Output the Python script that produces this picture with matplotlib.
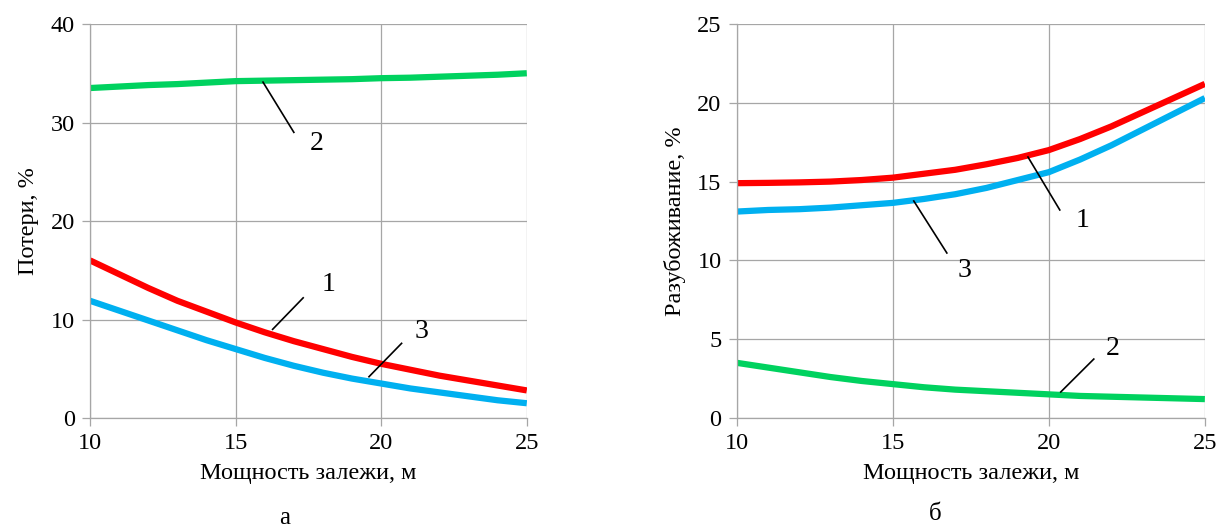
import matplotlib
matplotlib.use("Agg")
import matplotlib.pyplot as plt
import numpy as np

plt.rcParams['font.family'] = ['Liberation Serif', 'DejaVu Serif']

# мощность залежи, м
x = [10, 11, 12, 13, 14, 15, 16, 17, 18, 19, 20, 21, 22, 23, 24, 25]

# (а) потери, %
poteri_1 = [16.0, 14.6, 13.2, 11.9, 10.8, 9.7, 8.7, 7.8, 7.0, 6.2, 5.5, 4.9, 4.3, 3.8, 3.3, 2.8]
poteri_2 = [33.5, 33.65, 33.8, 33.9, 34.05, 34.2, 34.25, 34.3, 34.35, 34.4, 34.5, 34.55, 34.65, 34.75, 34.85, 35.0]
poteri_3 = [11.9, 10.9, 9.9, 8.9, 7.9, 7.0, 6.1, 5.3, 4.6, 4.0, 3.5, 3.0, 2.6, 2.2, 1.8, 1.5]

# (б) разубоживание, %
razub_1 = [14.9, 14.92, 14.95, 15.0, 15.1, 15.25, 15.5, 15.75, 16.1, 16.5, 17.0, 17.7, 18.5, 19.4, 20.3, 21.2]
razub_2 = [3.5, 3.2, 2.9, 2.6, 2.35, 2.15, 1.95, 1.8, 1.7, 1.6, 1.5, 1.4, 1.35, 1.3, 1.25, 1.2]
razub_3 = [13.1, 13.2, 13.25, 13.35, 13.5, 13.65, 13.9, 14.2, 14.6, 15.1, 15.6, 16.4, 17.3, 18.3, 19.3, 20.3]

red = '#ff0000'
green = '#00d25f'
blue = '#00b0f0'
grid_c = '#a6a6a6'

fig = plt.figure(figsize=(12.2, 5.31), dpi=100)
ax1 = fig.add_axes([0.0738, 0.2128, 0.358, 0.742])
ax2 = fig.add_axes([0.604, 0.2128, 0.3836, 0.742])


def style(ax, ymax, ystep):
    ax.set_xlim(10, 25)
    ax.set_ylim(0, ymax)
    ax.set_xticks([10, 15, 20, 25])
    ax.set_yticks(np.arange(0, ymax + 1, ystep))
    ax.grid(True, color=grid_c, linewidth=0.9)
    ax.set_axisbelow(True)
    for s in ['top', 'right']:
        ax.spines[s].set_visible(False)
    for s in ['left', 'bottom']:
        ax.spines[s].set_color(grid_c)
        ax.spines[s].set_linewidth(0.9)
    ax.tick_params(direction='out', length=6, width=0.9, color=grid_c,
                   labelsize=17.5, pad=5)
    ax.set_xlabel('Мощность залежи, м', fontsize=17.5, labelpad=6)


def leader(ax, x0, y0, x1, y1, tx, ty, label):
    # выноска с номером кривой
    ax.plot([x0, x1], [y0, y1], color='black', lw=1.2)
    ax.text(tx, ty, label, fontsize=20, ha='center', va='center')


lw = 4.5
ax1.plot(x, poteri_2, color=green, lw=lw, solid_capstyle='butt')
ax1.plot(x, poteri_1, color=red, lw=lw, solid_capstyle='butt')
ax1.plot(x, poteri_3, color=blue, lw=lw, solid_capstyle='butt')
style(ax1, 40, 10)
ax1.set_ylabel('Потери, %', fontsize=17.5, labelpad=8)

leader(ax1, 15.94, 34.1, 17.0, 29.0, 17.79, 27.9, '2')
leader(ax1, 16.27, 9.0, 17.32, 12.2, 18.2, 13.6, '1')
leader(ax1, 19.58, 4.19, 20.70, 7.58, 21.39, 8.76, '3')

ax2.plot(x, razub_2, color=green, lw=lw, solid_capstyle='butt')
ax2.plot(x, razub_3, color=blue, lw=lw, solid_capstyle='butt')
ax2.plot(x, razub_1, color=red, lw=lw, solid_capstyle='butt')
style(ax2, 25, 5)
ax2.set_ylabel('Разубоживание, %', fontsize=17.5, labelpad=8)

leader(ax2, 19.33, 16.56, 20.35, 13.2, 21.09, 12.56, '1')
leader(ax2, 15.67, 13.77, 16.73, 10.47, 17.31, 9.39, '3')
leader(ax2, 20.38, 1.65, 21.44, 3.74, 22.05, 4.44, '2')

fig.text(285 / 1220, 1 - 518 / 531, 'а', fontsize=18, ha='center', va='center')
fig.text(935 / 1220, 1 - 514 / 531, 'б', fontsize=18, ha='center', va='center')

fig.savefig('out.png', dpi=100)
